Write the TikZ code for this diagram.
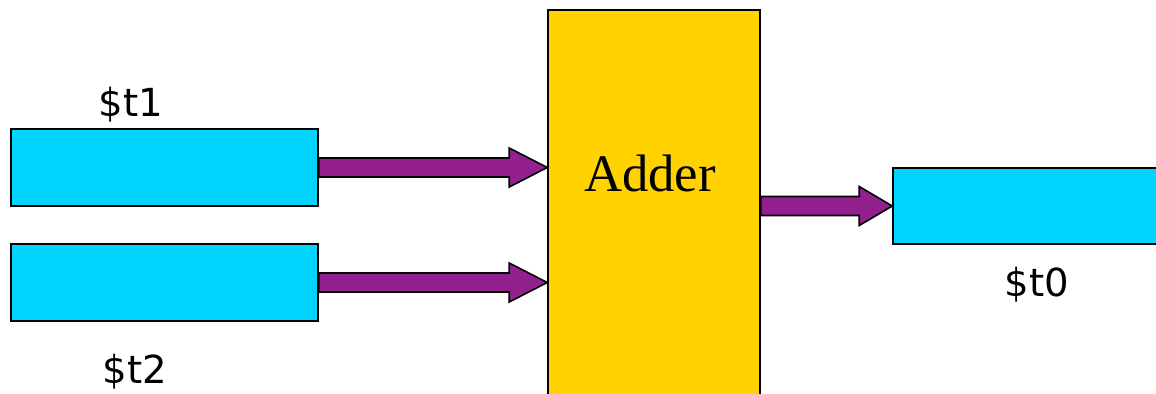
\documentclass[tikz,border=0pt]{standalone}
\usepackage{fontspec}
\setmainfont{Liberation Serif}
\newfontfamily\labelfont{DejaVu Sans}
\usetikzlibrary{calc}
\definecolor{regcyan}{RGB}{0,212,255}
\definecolor{addyellow}{RGB}{255,210,0}
\definecolor{buspurple}{RGB}{148,32,144}
\tikzstyle{reg}=[shape=rectangle,
                draw=black,
                fill=regcyan,
                line width=0.9pt,
                inner sep=0pt]
\tikzstyle{alu}=[shape=rectangle,
                draw=black,
                fill=addyellow,
                line width=0.9pt,
                inner sep=0pt]
\tikzstyle{regname}=[font=\labelfont\fontsize{22}{24}\selectfont]
\tikzstyle{bus}=[draw=black,
                fill=buspurple,
                line width=0.9pt,
                line join=miter]
% fat arrow: from, to, head length
\newcommand{\fatarrow}[3]{%
\draw[bus] ($(#1)+(0,-9.5)$) -- ($(#2)+(-#3,-9.5)$) -- ($(#2)+(-#3,-19.5)$)
   -- (#2) -- ($(#2)+(-#3,19.5)$) -- ($(#2)+(-#3,9.5)$) -- ($(#1)+(0,9.5)$) -- cycle;}

\begin{document}
\begin{tikzpicture}[x=0.02cm,y=-0.02cm]
\useasboundingbox (0,0) rectangle (1156,393);
\clip (0,0) rectangle (1156,393);

% source registers
\node[reg,minimum width=6.14cm,minimum height=1.54cm] (t1) at (164.5,167.5) {};
\node[reg,minimum width=6.14cm,minimum height=1.54cm] (t2) at (164.5,282.5) {};

% adder
\node[alu,minimum width=4.24cm,minimum height=8cm] (adder) at (654,210) {};
\node[font=\fontsize{30}{32}\selectfont] (addtxt) at (650,173) {Adder};

% destination register
\node[reg,minimum width=5.4cm,minimum height=1.52cm] (t0) at (1028,206) {};

% register names
\node[regname] (n1) at (131,105) {\$t1};
\node[regname] (n2) at (135,372) {\$t2};
\node[regname] (n0) at (1037,285) {\$t0};

% buses
\fatarrow{t1.east}{adder.west |- t1.east}{38}
\fatarrow{t2.east}{adder.west |- t2.east}{38}
\fatarrow{adder.east |- t0.west}{t0.west}{33}
\end{tikzpicture}
\end{document}
